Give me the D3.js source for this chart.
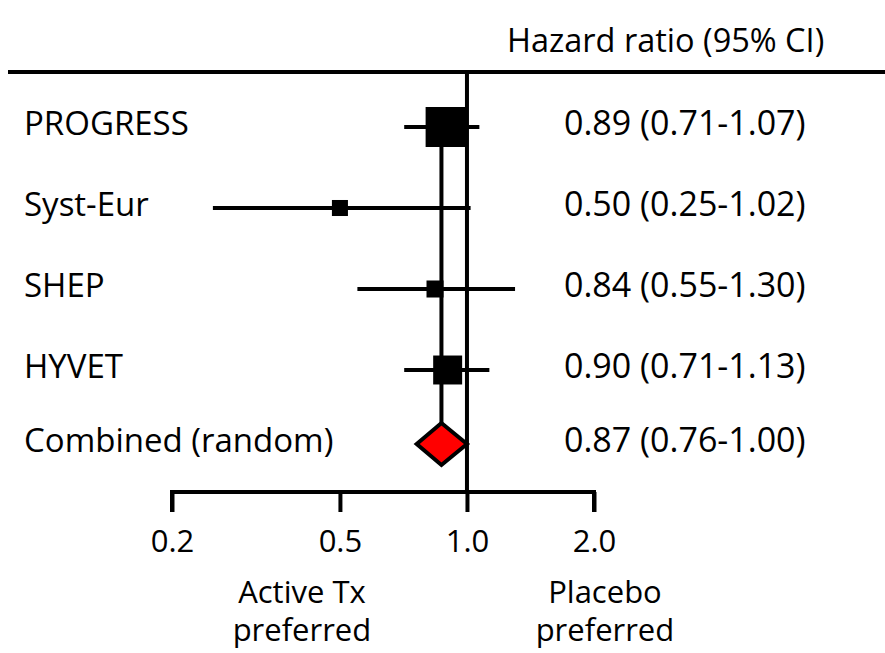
<!DOCTYPE html>
<html>
<head>
<meta charset="utf-8">
<script src="https://cdn.jsdelivr.net/npm/d3@7"></script>
<style>
  body { margin: 0; background: #fff; }
  text { font-family: "Open Sans", sans-serif; fill: #000; }
</style>
</head>
<body>
<div id="main"></div>
<script>
// study rows
const studies = ["PROGRESS", "Syst-Eur", "SHEP", "HYVET"];
const hr = [0.89, 0.50, 0.84, 0.90];
const lower = [0.71, 0.25, 0.55, 0.71];
const upper = [1.07, 1.02, 1.30, 1.13];
const weights = [53.6, 8.6, 9.7, 28.1];   // % weight, drives box size

// pooled estimate
const pooledLabel = "Combined (random)";
const pooled = [0.87, 0.76, 1.00];

const tickValues = [0.2, 0.5, 1.0, 2.0];

const width = 885, height = 653;

const svg = d3.select("#main")
    .append("svg")
    .attr("width", width)
    .attr("height", height);

const x = d3.scaleLog()
    .domain([0.2, 2.0])
    .range([172, 594]);

const y = d3.scalePoint()
    .domain(studies)
    .range([127, 370]);

const yPooled = y(studies[studies.length - 1]) + 74;
const axisY = 492;

const box = d3.scaleSqrt()
    .domain([0, d3.max(weights)])
    .range([0, 40]);

const lw = 4;

// header
svg.append("text")
    .attr("x", 507)
    .attr("y", 52)
    .style("font-size", "32.5px")
    .text("Hazard ratio (95% CI)");

svg.append("line")
    .attr("x1", 8).attr("x2", width)
    .attr("y1", 72).attr("y2", 72)
    .attr("stroke", "black").attr("stroke-width", lw);

// line of no effect
svg.append("line")
    .attr("x1", x(1)).attr("x2", x(1))
    .attr("y1", 72).attr("y2", axisY)
    .attr("stroke", "black").attr("stroke-width", lw);

// pooled estimate reference line
svg.append("line")
    .attr("x1", x(pooled[0])).attr("x2", x(pooled[0]))
    .attr("y1", y(studies[0])).attr("y2", yPooled - 21)
    .attr("stroke", "black").attr("stroke-width", lw);

const rows = studies.map((s, i) => ({ name: s, hr: hr[i], lo: lower[i], hi: upper[i], w: weights[i] }));

// CI whiskers
svg.selectAll(".ci")
    .data(rows)
    .join("line")
    .attr("class", "ci")
    .attr("x1", d => x(d.lo))
    .attr("x2", d => x(d.hi))
    .attr("y1", d => y(d.name))
    .attr("y2", d => y(d.name))
    .attr("stroke", "black")
    .attr("stroke-width", lw);

// boxes
svg.selectAll(".box")
    .data(rows)
    .join("rect")
    .attr("class", "box")
    .attr("x", d => x(d.hr) - box(d.w) / 2)
    .attr("y", d => y(d.name) - box(d.w) / 2)
    .attr("width", d => box(d.w))
    .attr("height", d => box(d.w))
    .attr("fill", "black");

// diamond
const dh = 21;
svg.append("path")
    .attr("d", `M${x(pooled[1])},${yPooled}L${x(pooled[0])},${yPooled - dh}L${x(pooled[2])},${yPooled}L${x(pooled[0])},${yPooled + dh}Z`)
    .attr("fill", "#ff0000")
    .attr("stroke", "black")
    .attr("stroke-width", lw)
    .attr("stroke-linejoin", "miter");

// left labels
svg.selectAll(".lbl")
    .data(studies.concat([pooledLabel]))
    .join("text")
    .attr("class", "lbl")
    .attr("x", 24)
    .attr("y", (d, i) => (i < studies.length ? y(d) : yPooled) + 8)
    .style("font-size", "33px")
    .text(d => d);

// right estimates
const fmt = d3.format(".2f");
const estText = rows.map(d => `${fmt(d.hr)} (${fmt(d.lo)}-${fmt(d.hi)})`)
    .concat([`${fmt(pooled[0])} (${fmt(pooled[1])}-${fmt(pooled[2])})`]);

svg.selectAll(".est")
    .data(estText)
    .join("text")
    .attr("class", "est")
    .attr("x", 564)
    .attr("y", (d, i) => (i < studies.length ? y(studies[i]) : yPooled) + 8)
    .style("font-size", "34px")
    .text(d => d);

// x axis
const axis = svg.append("g")
    .attr("transform", `translate(0,${axisY})`)
    .call(d3.axisBottom(x)
        .tickValues(tickValues)
        .tickFormat(d3.format(".1f"))
        .tickSize(20)
        .tickPadding(18));

axis.select(".domain")
    .attr("stroke-width", lw)
    .attr("d", `M${x(0.2)},20V0H${x(2)}V20`);
axis.selectAll(".tick line").attr("stroke-width", lw);
axis.selectAll(".tick text")
    .style("font-size", "31px")
    .attr("font-family", null);

// direction labels
const dir = [
    { x: x(0.5) - 38, lines: ["Active Tx", "preferred"] },
    { x: x(1) + 138, lines: ["Placebo", "preferred"] }
];
dir.forEach(d => {
    d.lines.forEach((t, i) => {
        svg.append("text")
            .attr("x", d.x)
            .attr("y", 603 + i * 38)
            .attr("text-anchor", "middle")
            .style("font-size", "31px")
            .text(t);
    });
});
</script>
</body>
</html>
